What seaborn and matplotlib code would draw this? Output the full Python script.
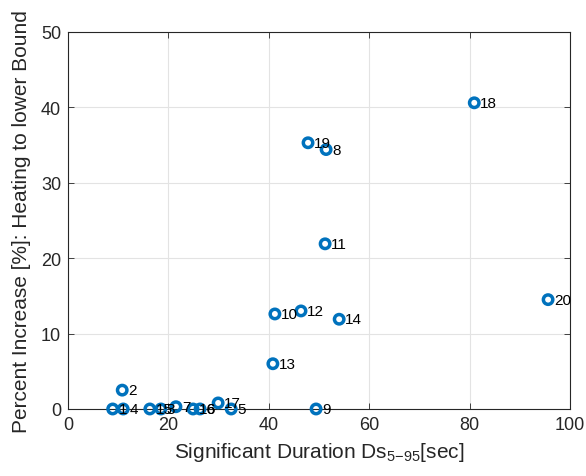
import matplotlib
matplotlib.use("Agg")
import matplotlib.pyplot as plt
import seaborn as sns
import pandas as pd

# Significant duration Ds5-95 [sec] and percent increase per record
record_ids = ["1", "2", "3", "4", "5", "6", "7", "8", "9", "10",
              "11", "12", "13", "14", "15", "16", "17", "18", "19", "20"]
duration = [8.9, 10.8, 18.5, 11.0, 32.5, 26.3, 21.5, 51.4, 49.4, 41.2,
            51.2, 46.4, 40.8, 54.0, 16.3, 24.9, 29.9, 80.9, 47.8, 95.6]
increase = [0.0, 2.5, 0.0, 0.0, 0.0, 0.0, 0.3, 34.4, 0.0, 12.6,
            21.9, 13.0, 6.0, 11.9, 0.0, 0.0, 0.8, 40.6, 35.3, 14.5]

x_ticks = [0, 20, 40, 60, 80, 100]
y_ticks = [0, 10, 20, 30, 40, 50]

df = pd.DataFrame({"id": record_ids, "ds": duration, "inc": increase})

sns.set_theme(style="white")
plt.rcParams["font.family"] = ["Liberation Sans", "DejaVu Sans"]
plt.rcParams["mathtext.fontset"] = "custom"
plt.rcParams["mathtext.rm"] = "Liberation Sans"
plt.rcParams["mathtext.it"] = "Liberation Sans"

axis_color = "#262626"
blue = "#0072BD"

fig = plt.figure(figsize=(5.86, 4.77), dpi=100)
ax = fig.add_axes([0.116, 0.1405, 0.857, 0.7905])

sns.scatterplot(data=df, x="ds", y="inc", ax=ax, marker="o", s=46,
                facecolors="none", edgecolor=blue, linewidth=2.5,
                legend=False, zorder=3, clip_on=False)

for _, r in df.iterrows():
    ax.text(r["ds"] + 1.2, r["inc"], r["id"], fontsize=11,
            va="center", ha="left", color="black", zorder=4)

ax.set_xlim(0, 100)
ax.set_ylim(0, 50)
ax.set_xticks(x_ticks)
ax.set_yticks(y_ticks)
ax.grid(True, color="#e3e3e3", linewidth=0.8)
ax.set_axisbelow(True)
ax.tick_params(direction="in", length=4, width=0.6, colors=axis_color,
               labelsize=13, labelcolor=axis_color, top=True, right=True,
               bottom=True, left=True, labeltop=False, labelright=False,
               pad=5)
for sp in ax.spines.values():
    sp.set_color(axis_color)
    sp.set_linewidth(0.8)
    sp.set_visible(True)

ax.set_xlabel(r"Significant Duration Ds$_{5\mathrm{-}95}$[sec]",
              fontsize=15, color=axis_color, labelpad=5)
ax.set_ylabel("Percent Increase [%]: Heating to lower Bound",
              fontsize=15, color=axis_color, labelpad=7)

fig.savefig("out.png", dpi=100)
